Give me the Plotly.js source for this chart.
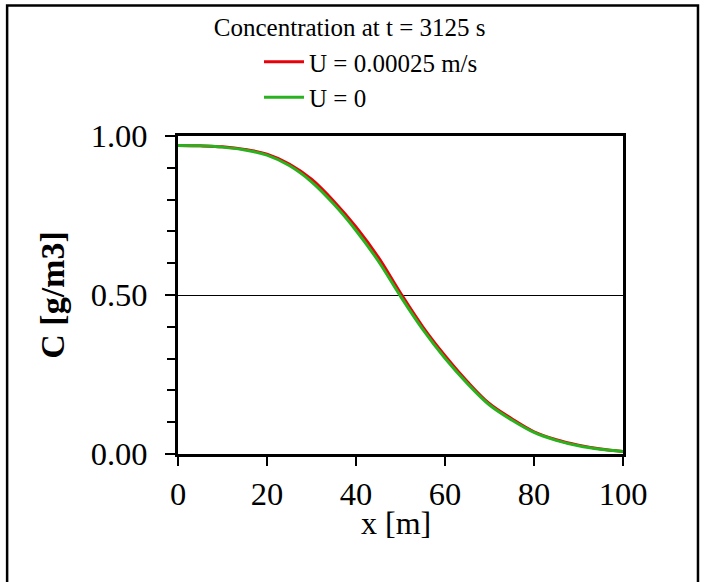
<!DOCTYPE html>
<html>
<head>
<meta charset="utf-8">
<script src="https://cdn.plot.ly/plotly-3.0.1.min.js"></script>
<style>
  html, body { margin: 0; padding: 0; background: #ffffff; }
  #chart { width: 706px; height: 582px; }
</style>
</head>
<body>
<div id="chart"></div>
<script>
// Distance along the domain [m]
const xPositions = [0, 5, 10, 15, 20, 25, 30, 35, 40, 45, 50, 55, 60, 65, 70, 75, 80, 85, 90, 95, 100];

// Concentration [g/m3] with advection U = 0.00025 m/s
const concAdvection = [0.970, 0.969, 0.966, 0.958, 0.943, 0.912, 0.864, 0.795, 0.714, 0.619, 0.506,
                       0.400, 0.309, 0.228, 0.158, 0.111, 0.070, 0.045, 0.028, 0.016, 0.008];

// Concentration [g/m3] with no advection U = 0
const concNoAdvection = [0.970, 0.969, 0.965, 0.956, 0.940, 0.907, 0.856, 0.786, 0.703, 0.607, 0.496,
                         0.392, 0.301, 0.222, 0.154, 0.107, 0.068, 0.043, 0.026, 0.015, 0.008];

const seriesNames = ["U = 0.00025 m/s", "U = 0"];
const chartTitle = "Concentration at t = 3125 s";
const xTitle = "x [m]";
const yTitle = "C [g/m3]";
const yTickVals = [0, 0.5, 1.0];
const yTickText = ["0.00", "0.50", "1.00"];

const serif = "'Liberation Serif', 'Times New Roman', serif";

const traces = [
  {
    x: xPositions, y: concAdvection, name: seriesNames[0], legendgroup: "a",
    type: "scatter", mode: "lines",
    line: { color: "rgb(232,0,10)", width: 3, shape: "spline" }
  },
  {
    x: xPositions, y: concNoAdvection, name: seriesNames[1], legendgroup: "b",
    type: "scatter", mode: "lines",
    line: { color: "rgb(40,178,30)", width: 3, shape: "spline" }
  }
];

const layout = {
  width: 706, height: 582,
  margin: { l: 178, r: 83, t: 136, b: 128, pad: 0 },
  paper_bgcolor: "#ffffff", plot_bgcolor: "#ffffff",
  font: { family: serif, color: "#000000", size: 25 },
  showlegend: true,
  title: {
    text: chartTitle,
    font: { family: serif, size: 25, color: "#000000" },
    x: 0.4953, xanchor: "center", xref: "container",
    y: 0.9536, yanchor: "middle", yref: "container"
  },
  legend: {
    x: 0.182, xanchor: "left", y: 1.305, yanchor: "top",
    bgcolor: "rgba(0,0,0,0)", borderwidth: 0,
    font: { family: serif, size: 25, color: "#000000" },
    itemwidth: 40, tracegroupgap: 0
  },
  xaxis: {
    range: [0, 100], dtick: 20, tick0: 0,
    showgrid: false, zeroline: false,
    showline: true, linecolor: "#000000", linewidth: 3, mirror: true,
    ticks: "outside", ticklen: 9, tickwidth: 2, tickcolor: "#000000",
    tickfont: { family: serif, size: 32.5, color: "#000000" },
    ticklabelstandoff: 0,
    fixedrange: true
  },
  yaxis: {
    range: [0, 1], tickvals: yTickVals, ticktext: yTickText,
    showgrid: true, gridcolor: "#000000", gridwidth: 1, zeroline: false,
    showline: true, linecolor: "#000000", linewidth: 3, mirror: true,
    ticks: "outside", ticklen: 10, tickwidth: 2, tickcolor: "#000000",
    tickfont: { family: serif, size: 32.5, color: "#000000" },
    ticklabelstandoff: 11,
    minor: { dtick: 0.1, tick0: 0, ticks: "outside", ticklen: 8, tickwidth: 2, tickcolor: "#000000", showgrid: false },
    title: { text: "<b>" + yTitle + "</b>", font: { family: serif, size: 34, color: "#000000" }, standoff: 16 },
    fixedrange: true
  },
  annotations: [
    {
      text: xTitle, xref: "paper", yref: "paper",
      x: 0.491, y: -0.218, xanchor: "center", yanchor: "middle",
      showarrow: false, font: { family: serif, size: 32, color: "#000000" }
    }
  ],
  shapes: [
    {
      type: "rect", xref: "paper", yref: "paper",
      x0: -0.384, x1: 1.1685, y0: -0.43, y1: 1.410,
      line: { color: "#000000", width: 2.5 }, fillcolor: "rgba(0,0,0,0)", layer: "above"
    }
  ]
};

Plotly.newPlot("chart", traces, layout, { displayModeBar: false, staticPlot: true });
</script>
</body>
</html>
